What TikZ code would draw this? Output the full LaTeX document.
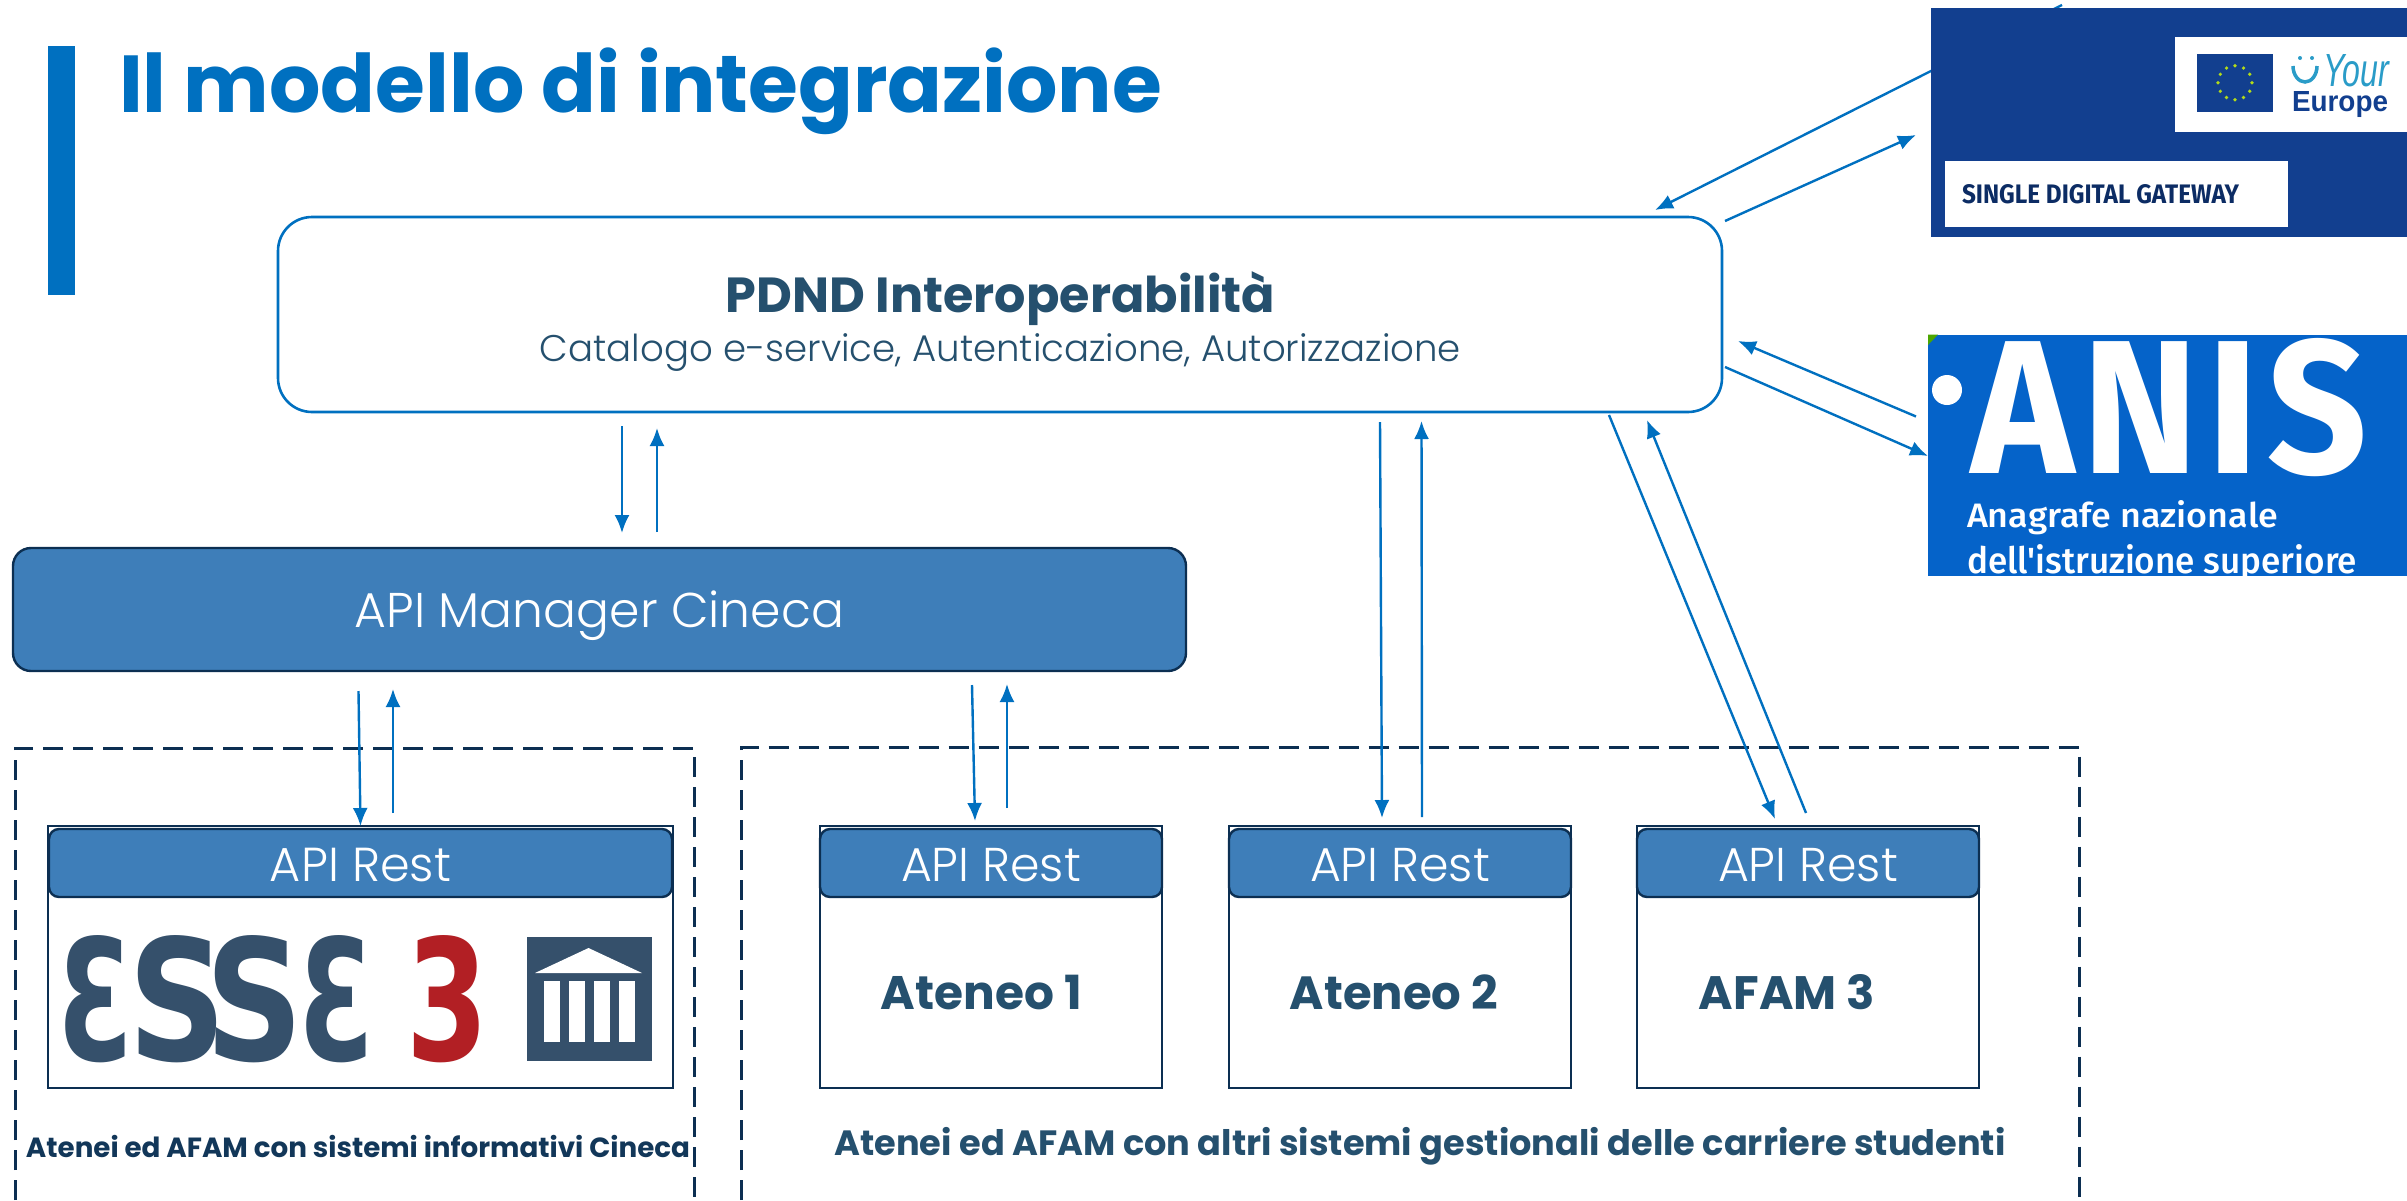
\documentclass[tikz,border=0pt]{standalone}
\usepackage{graphicx}
\usepackage{fontspec}
\setmainfont{Poppins}
\newfontfamily\plight{Poppins Light}
\newfontfamily\fira{Fira Sans}
\newfontfamily\firam{Fira Sans Medium}
\newfontfamily\djv{DejaVu Sans}
\newfontfamily\lib{Liberation Sans}
\usetikzlibrary{arrows.meta,calc}
\definecolor{tblue}{HTML}{0070C0}
\definecolor{dtext}{HTML}{25506E}
\definecolor{barf}{HTML}{3E7EB9}
\definecolor{dline}{HTML}{0C2F52}
\definecolor{sdgb}{HTML}{123F8F}
\definecolor{anisb}{HTML}{0563C9}
\definecolor{essed}{HTML}{35506B}
\definecolor{essr}{HTML}{B21F24}
\definecolor{teal1}{HTML}{2A9CC8}
\newcommand{\fw}[2]{\resizebox{#1pt}{!}{#2}}
\newcommand{\fwh}[3]{\resizebox{#1pt}{#2pt}{#3}}
\tikzset{
  x=1pt,y=-1pt,
  lbl/.style={inner sep=0pt,outer sep=0pt,anchor=base},
  lblw/.style={inner sep=0pt,outer sep=0pt,anchor=base west},
  sq/.style={rectangle,inner sep=0pt,outer sep=0pt},
  syscard/.style={sq,draw=dline,line width=2.4pt,fill=white,minimum width=342pt,minimum height=262pt},
  apibar/.style={sq,draw=dline,line width=2.4pt,fill=barf,rounded corners=10pt,minimum height=68pt},
  flow/.style={draw=tblue,line width=2.4pt,-{Latex[length=18pt,width=15pt]}},
  dashbox/.style={draw=dline,line width=3pt,dash pattern=on 20pt off 10pt},
  essel/.style={sq,text=essed},
}
\begin{document}
\begin{tikzpicture}
\useasboundingbox (0,0) rectangle (2407,1200);
\fill[white] (0,0) rectangle (2407,1200);
% title
\node[sq,fill=tblue,minimum width=27pt,minimum height=249pt] (bar) at (61.5,170) {};
\node[lblw,text=tblue] (title) at (119,112.5) {\fw{1043}{\bfseries Il modello di integrazione}};
% dashed groups
\coordinate (la) at (15,1200); \coordinate (lb) at (15,748); \coordinate (lc) at (694,748); \coordinate (ld) at (694,1200);
\coordinate (ra) at (741.5,1200); \coordinate (rb) at (741.5,747); \coordinate (rc) at (2079,747); \coordinate (rd) at (2079,1200);
\draw[dashbox] (la) -- (lb) -- (lc) -- (ld);
\draw[dashbox] (ra) -- (rb) -- (rc) -- (rd);
% main boxes
\node[sq,draw=tblue,line width=2.6pt,fill=white,rounded corners=34pt,minimum width=1444pt,minimum height=195pt] (pdnd) at (1000,314.5) {};
\node[lbl,text=dtext] (pdndt) at (1000.5,312.5) {\fw{549}{\bfseries PDND Interoperabilità}};
\node[lbl,text=dtext] (pdnds) at (1000.5,361) {\fw{921}{\plight Catalogo e-service, Autenticazione, Autorizzazione}};
\node[sq,draw=dline,line width=2.4pt,fill=barf,rounded corners=18pt,minimum width=1173pt,minimum height=123pt] (mgr) at (599.5,609.5) {};
\node[lbl,text=white] (mgrt) at (599.5,627) {\fw{489}{\plight API Manager Cineca}};
% cards
\node[syscard,minimum width=625pt] (c0) at (360.5,957) {};
\node[syscard] (c1) at (991,957) {};
\node[syscard] (c2) at (1400,957) {};
\node[syscard] (c3) at (1808,957) {};
\node[apibar,minimum width=623pt] (a0) at (360.5,863) {};
\node[apibar,minimum width=342pt] (a1) at (991,863) {};
\node[apibar,minimum width=342pt] (a2) at (1400,863) {};
\node[apibar,minimum width=342pt] (a3) at (1808,863) {};
\node[lbl,text=white] (a0t) at (360.5,881) {\fw{181}{\plight API Rest}};
\node[lbl,text=white] (a1t) at (991,881) {\fw{180}{\plight API Rest}};
\node[lbl,text=white] (a2t) at (1400,881) {\fw{180}{\plight API Rest}};
\node[lbl,text=white] (a3t) at (1808,881) {\fw{180}{\plight API Rest}};
\node[lbl,text=dtext] (t1) at (981.5,1009) {\fw{201}{\bfseries Ateneo 1}};
\node[lbl,text=dtext] (t2) at (1393.8,1009) {\fw{208}{\bfseries Ateneo 2}};
\node[lbl,text=dtext] (t3) at (1787,1009) {\fw{176}{\bfseries AFAM 3}};
\node[lbl,text=dtext] (capr) at (1420,1155) {\fw{1171}{\bfseries Atenei ed AFAM con altri sistemi gestionali delle carriere studenti}};
\node[lbl,text=dline!75!dtext] (capl) at (358,1157) {\fw{664}{\bfseries Atenei ed AFAM con sistemi informativi Cineca}};
% ESSE3 logo
\node[essel] (e1) at (96.5,999.5) {\fwh{75}{125}{\djv\bfseries Ɛ}};
\node[essel] (e2) at (178,999.5) {\fwh{98}{125}{\djv\bfseries S}};
\node[essel] (e3) at (255,999.5) {\fwh{98}{125}{\djv\bfseries S}};
\node[essel] (e4) at (337.5,999.5) {\fwh{75}{125}{\djv\bfseries Ɛ}};
\node[essel,text=essr] (e5) at (448,999.5) {\fwh{82}{125}{\djv\bfseries 3}};
\node[sq,fill=essed,minimum width=125pt,minimum height=124pt] (bank) at (589.5,999) {};
\fill[white] (535,973) -- (588.5,948) -- (642,973) -- cycle;
\foreach \xx in {544,569,594,619} \fill[white] (\xx,981) rectangle (\xx+15.5,1042);
% arrow free ends
\coordinate (p1) at (622,426); \coordinate (p2) at (622,533);
\coordinate (p3) at (657,532); \coordinate (p4) at (657,428);
\coordinate (m1) at (358.5,691); \coordinate (m2) at (360.5,826);
\coordinate (m3) at (393,813); \coordinate (m4) at (393,689);
\coordinate (n1) at (972,685); \coordinate (n2) at (975,821);
\coordinate (n3) at (1007,808); \coordinate (n4) at (1007,684);
\coordinate (o1) at (1380,422); \coordinate (o2) at (1382,818);
\coordinate (o3) at (1422,817); \coordinate (o4) at (1421.5,421);
\coordinate (q1) at (1609,415); \coordinate (q2) at (1775,819);
\coordinate (q3) at (1806,813); \coordinate (q4) at (1647,420);
\coordinate (s1) at (2062,5); \coordinate (s2) at (1655,210);
\coordinate (s3) at (1725,221); \coordinate (s4) at (1916,135);
\coordinate (u1) at (1916,416.5); \coordinate (u2) at (1738,341);
\coordinate (u3) at (1725,367); \coordinate (u4) at (1928,456);
\foreach \aa/\bb in {p1/p2,p3/p4,m1/m2,m3/m4,n1/n2,n3/n4,o1/o2,o3/o4,q1/q2,q3/q4,s1/s2,s3/s4,u1/u2,u3/u4}
  \draw[flow] (\aa) -- (\bb);
% Single Digital Gateway logo
\node[sq,fill=sdgb,minimum width=476pt,minimum height=228.5pt] (sdg) at (2169,122.25) {};
\node[sq,fill=white,minimum width=232pt,minimum height=95.5pt] (ye) at (2291,84.25) {};
\node[sq,fill=sdgb,minimum width=76pt,minimum height=57.5pt] (flag) at (2235,82.75) {};
\foreach \an in {0,30,...,330} \fill[yellow!70!green] ($(flag.center)+(\an:17pt)$) circle (1.8pt);
\draw[teal1,line width=3.5pt] (2293,66) arc[start angle=180,end angle=360,x radius=12pt,y radius=16pt];
\fill[teal1] (2300,58) circle (2pt) (2312,58) circle (2pt);
\node[lblw,text=teal1] (your) at (2323,86) {\fwh{66}{32}{\lib\itshape Your}};
\node[lblw,text=sdgb] (eur) at (2292,111) {\fwh{96}{20}{\lib\bfseries Europe}};
\node[sq,fill=white,minimum width=343pt,minimum height=66pt] (sgb) at (2116.5,194) {};
\node[lblw,text=sdgb!70!black] (sgt) at (1962,203) {\fwh{277}{19}{\fira\bfseries SINGLE DIGITAL GATEWAY}};
% ANIS logo
\node[sq,fill=anisb,minimum width=479pt,minimum height=241.5pt] (anis) at (2167.5,455.25) {};
\fill[green!50!black!70!yellow] (1928,334.6) -- (1938,334.6) -- (1928,345) -- cycle;
\fill[white] (1947,390) circle (15pt);
\node[lblw,text=white] (anist) at (1971,473) {\fwh{396}{135}{\fira\bfseries\addfontfeature{LetterSpace=5}ANIS}};
\begin{scope}
\clip (1928,334.6) rectangle (2407,576);
\node[lblw,text=white] (anl1) at (1967,527) {\fwh{311}{27}{\firam Anagrafe nazionale}};
\node[lblw,text=white] (anl2) at (1967,573) {\fwh{390}{29}{\firam dell'istruzione superiore}};
\end{scope}
\end{tikzpicture}
\end{document}
